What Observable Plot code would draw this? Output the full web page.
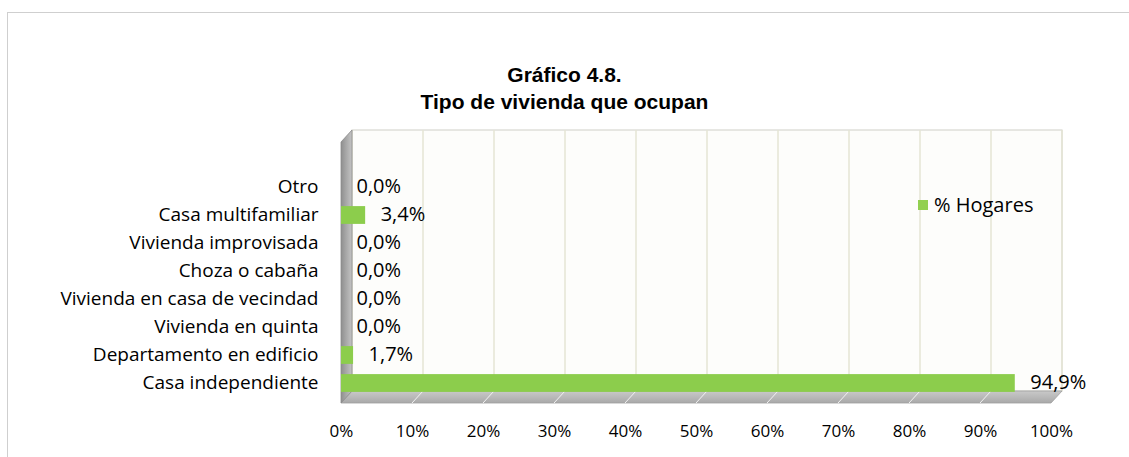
<!DOCTYPE html>
<html>
<head>
<meta charset="utf-8">
<script src="https://cdn.jsdelivr.net/npm/d3@7"></script>
<script src="https://cdn.jsdelivr.net/npm/@observablehq/plot@0.6"></script>
<style>
  html, body { margin: 0; padding: 0; background: #fff; }
  #wrap { position: relative; width: 1129px; height: 457px; overflow: hidden; }
  #frame { position: absolute; left: 7px; top: 12px; width: 1130px; height: 460px;
           border-left: 1px solid #cfcfcf; border-top: 1px solid #cfcfcf; }
  #title { position: relative; height: 115px; text-align: center;
           font-family: "Liberation Sans", Arial, sans-serif; font-weight: bold;
           color: #000; line-height: 24px; font-size: 21px; }
  #title .l1 { position: absolute; left: 0; right: 0; top: 63px; }
  #title .l2 { position: absolute; left: 0; right: 0; top: 90px; }
  #legend { position: absolute; left: 918px; top: 192px; font-family: "Open Sans", sans-serif;
            font-size: 20px; line-height: 26px; color: #000; display: flex; align-items: center; }
  #legend span.sw { display: inline-block; width: 10px; height: 10px; background: #92d050; margin-right: 6px; }
  #chart { position: absolute; left: 0; top: 115px; }
</style>
</head>
<body>
<div id="wrap">
  <div id="frame"></div>
  <div id="title"><div class="l1">Gráfico 4.8.</div><div class="l2">Tipo de vivienda que ocupan</div></div>
  <div id="chart"></div>
  <div id="legend"><span class="sw"></span>% Hogares</div>
</div>
<script>
const categories = ["Otro", "Casa multifamiliar", "Vivienda improvisada", "Choza o cabaña",
  "Vivienda en casa de vecindad", "Vivienda en quinta", "Departamento en edificio", "Casa independiente"];
const values = [0.0, 3.4, 0.0, 0.0, 0.0, 0.0, 1.7, 94.9];
const valueLabels = ["0,0%", "3,4%", "0,0%", "0,0%", "0,0%", "0,0%", "1,7%", "94,9%"];
const xTicks = [0, 10, 20, 30, 40, 50, 60, 70, 80, 90, 100];
const seriesName = "% Hogares";

const data = categories.map((c, i) => ({cat: c, value: values[i], label: valueLabels[i]}));

const W = 1129, H = 342;
const DX = 11, DY = -12;          // 3D depth offset of the walls
const BDX = 6, BDY = -4;          // 3D depth of bars
const STEP = 28.25;

function decor(index, scales, values, dims) {
  const x = scales.x;
  const top = dims.marginTop, bottom = dims.height - dims.marginBottom;
  const x0 = x(0), x1 = x(100);
  const g = d3.create("svg:g");
  const defs = g.append("defs");
  const lg = defs.append("linearGradient").attr("id", "wallG").attr("x1", "0").attr("x2", "1");
  lg.append("stop").attr("offset", "0").attr("stop-color", "#8f8f8f");
  lg.append("stop").attr("offset", "1").attr("stop-color", "#c4c4c4");
  const fg = defs.append("linearGradient").attr("id", "floorG").attr("x1", "0").attr("x2", "0").attr("y1", "0").attr("y2", "1");
  fg.append("stop").attr("offset", "0").attr("stop-color", "#c9c9c9");
  fg.append("stop").attr("offset", "1").attr("stop-color", "#a9a9a9");
  g.append("rect").attr("x", x0 + DX).attr("y", top).attr("width", x1 - x0).attr("height", bottom + DY - top)
    .attr("fill", "#fdfdfb").attr("stroke", "#cfcfc8").attr("stroke-width", 1);
  for (const t of xTicks) {
    g.append("line").attr("x1", x(t) + DX).attr("x2", x(t) + DX).attr("y1", top).attr("y2", bottom + DY)
      .attr("stroke", "#e4e4d4").attr("stroke-width", 1.5);
  }
  g.append("path").attr("d", `M${x0},${bottom}L${x1},${bottom}L${x1 + DX},${bottom + DY}L${x0 + DX},${bottom + DY}Z`)
    .attr("fill", "url(#floorG)").attr("stroke", "#a0a0a0").attr("stroke-width", 0.8);
  for (const t of xTicks.slice(1, -1)) {
    g.append("line").attr("x1", x(t)).attr("y1", bottom).attr("x2", x(t) + DX).attr("y2", bottom + DY)
      .attr("stroke", "#f2f2f2").attr("stroke-width", 1);
  }
  g.append("path").attr("d", `M${x0},${top - DY}L${x0 + DX},${top}L${x0 + DX},${bottom + DY}L${x0},${bottom}Z`)
    .attr("fill", "url(#wallG)").attr("stroke", "#8a8a8a").attr("stroke-width", 0.8);
  return g.node();
}

function faces(index, scales, vals, dims) {
  const x = scales.x, y = scales.y;
  const bw = y.bandwidth ?? STEP;
  const g = d3.create("svg:g");
  for (const d of data) {
    const c = y(d.cat) + bw / 2;
    const yt = c - 8, yb = c + 10;
    const xa = x(0), xb = x(d.value);
    if (xb - xa > 0.5) {
      g.append("path").attr("d", `M${xa},${yt}L${xb},${yt}L${xb + BDX},${yt + BDY}L${xa + BDX},${yt + BDY}Z`)
        .attr("fill", "#7cb83c");
    }
    g.append("path").attr("d", `M${xb},${yt}L${xb + BDX},${yt + BDY}L${xb + BDX},${yb + BDY}L${xb},${yb}Z`)
      .attr("fill", d.value > 0 ? "#5f9a2a" : "#6fa83a");
  }
  return g.node();
}

const plot = Plot.plot({
  width: W,
  height: H,
  marginLeft: 341,
  marginRight: 78,
  marginTop: 15,
  marginBottom: 54,
  style: {fontFamily: "'Open Sans', sans-serif", fontSize: "19px", color: "#000", background: "transparent", overflow: "visible"},
  x: {domain: [0, 100], axis: null},
  y: {domain: categories, range: [56, 282], padding: 0, axis: null},
  marks: [
    decor,
    Plot.barX(data, {x: "value", y: "cat", fill: "#8ccd4c", insetTop: 6.1, insetBottom: 4.1}),
    faces,
    Plot.axisY({tickSize: 0, tickPadding: 23, fontSize: 19, label: null}),
    Plot.text(data, {x: "value", y: "cat", text: "label", textAnchor: "start", dx: 15, fontSize: 20}),
    Plot.text(xTicks, {x: d => d, text: d => `${d}%`, frameAnchor: "bottom", dy: 33, fontSize: 17})
  ]
});
document.getElementById("chart").appendChild(plot);
</script>
</body>
</html>
